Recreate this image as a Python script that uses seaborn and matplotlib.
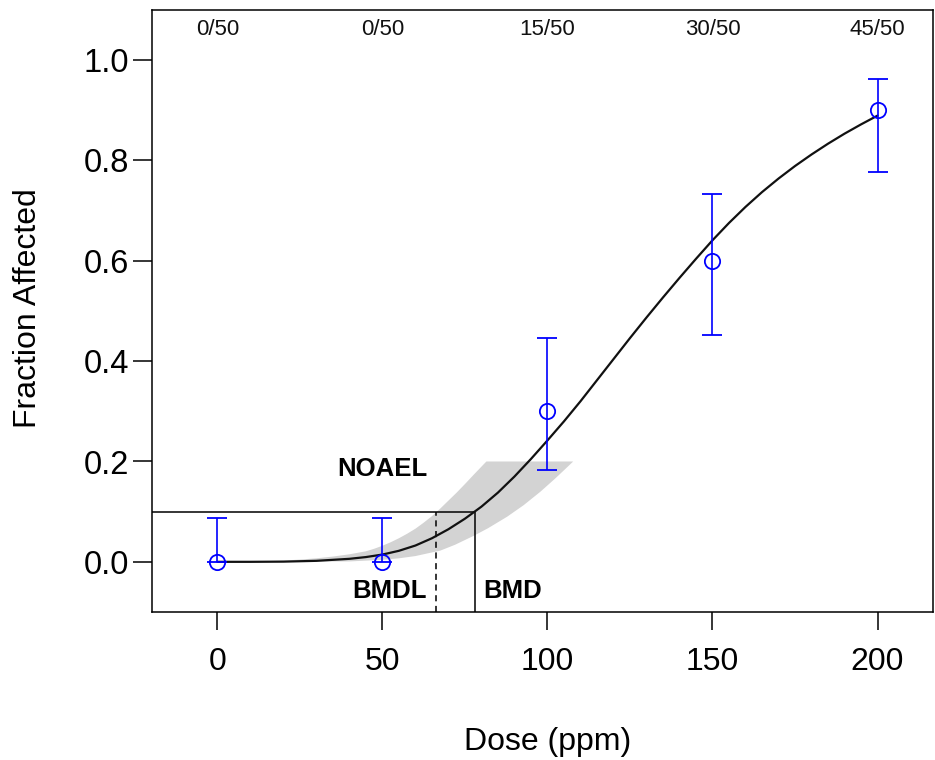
import numpy as np
import pandas as pd
import matplotlib
matplotlib.use("Agg")
import matplotlib.pyplot as plt
from matplotlib import font_manager
import seaborn as sns

# ---------------- data ----------------
doses = [0, 50, 100, 150, 200]
affected = [0, 0, 15, 30, 45]
n_animals = [50, 50, 50, 50, 50]
frac = [0.0, 0.0, 0.3, 0.6, 0.9]
ci_low = [0.0, 0.0, 0.183, 0.453, 0.777]
ci_high = [0.088, 0.087, 0.447, 0.734, 0.963]

curve_dose = [0, 10, 20, 30, 40, 45, 50, 55, 60, 65, 70, 75, 80, 85, 90, 95,
              100, 105, 110, 115, 120, 125, 130, 135, 140, 145, 150, 155, 160,
              165, 170, 175, 180, 185, 190, 195, 200]
curve_p = [0.0, 0.00002, 0.0004, 0.002, 0.006, 0.0095, 0.0145, 0.022, 0.0325,
           0.047, 0.065, 0.086, 0.110, 0.138, 0.170, 0.205, 0.242, 0.280, 0.320,
           0.362, 0.404, 0.446, 0.487, 0.527, 0.566, 0.604, 0.641, 0.6755, 0.7075,
           0.737, 0.764, 0.789, 0.812, 0.8335, 0.8535, 0.872, 0.8895]

band_upper_dose = [0, 10, 20, 25, 30, 35, 40, 45, 47.5, 50, 52.5, 55, 57.5, 60,
                   62.5, 65, 67.5, 70, 72.5, 75, 78, 81.5]
band_upper_p = [0.0, 0.0004, 0.0025, 0.0045, 0.007, 0.0105, 0.015, 0.021, 0.026,
                0.032, 0.039, 0.047, 0.056, 0.066, 0.078, 0.091, 0.106, 0.122,
                0.138, 0.155, 0.176, 0.2]
band_lower_dose = [0, 40, 50, 55, 60, 67.6, 72, 77.7, 82, 87.8, 92.8, 97.9,
                   102.5, 107.8]
band_lower_p = [0.0, 0.0008, 0.004, 0.007, 0.0115, 0.0225, 0.034, 0.052, 0.067,
                0.090, 0.113, 0.140, 0.167, 0.2]

bmr = 0.1
bmd = 77.9
bmdl = 66.2

xlim = (-19.8, 216.8)
ylim = (-0.1, 1.1)
xticks = [0, 50, 100, 150, 200]
yticks = [0.0, 0.2, 0.4, 0.6, 0.8, 1.0]

# ---------------- style ----------------
sns.set_theme(style="ticks")
names = {f.name for f in font_manager.fontManager.ttflist}
narrow = "Liberation Sans Narrow" if "Liberation Sans Narrow" in names else "Liberation Sans"
plt.rcParams["font.family"] = ["Liberation Sans", "DejaVu Sans"]

fig = plt.figure(figsize=(9.35, 7.6), dpi=100)
ax = fig.add_axes([152 / 935, 1 - 612 / 760, (933 - 152) / 935, (612 - 10) / 760])

# confidence band
band_x = band_upper_dose + band_lower_dose[::-1]
band_y = band_upper_p + band_lower_p[::-1]
ax.fill(band_x, band_y, color="#d3d3d3", lw=0, zorder=1)

# fitted curve
curve_df = pd.DataFrame({"dose": curve_dose, "p": curve_p})
sns.lineplot(data=curve_df, x="dose", y="p", ax=ax, color="#111111", lw=1.6,
             sort=True, estimator=None, zorder=3)

# BMD / BMDL guides
ax.hlines(bmr, xlim[0], bmd, color="black", lw=1.1, zorder=2)
ax.vlines(bmd, ylim[0], bmr, color="black", lw=1.1, zorder=2)
ax.vlines(bmdl, ylim[0], bmr, color="black", lw=1.1, linestyles=(0, (4, 3)), zorder=2)

# observed data with error bars
yerr = [np.array(frac) - np.array(ci_low), np.array(ci_high) - np.array(frac)]
ax.errorbar(doses, frac, yerr=yerr, fmt="o", mfc="none", mec="#0000ff",
            ms=11, mew=1.3, ecolor="#0000ff", elinewidth=1.2, capsize=7.5,
            capthick=1.2, zorder=4)

# counts on top
for d, a, nn in zip(doses, affected, n_animals):
    ax.text(d, 0.967, f"{a}/{nn}", transform=ax.get_xaxis_transform(),
            ha="center", va="center", fontsize=16, family=[narrow, "DejaVu Sans"],
            color="#111111")

# annotations
ax.text(50, 0.185, "NOAEL", ha="center", va="center", fontsize=18.5,
        fontweight="bold", color="black")
ax.text(63.5, -0.058, "BMDL", ha="right", va="center", fontsize=18.5,
        fontweight="bold", color="black")
ax.text(80.5, -0.058, "BMD", ha="left", va="center", fontsize=18.5,
        fontweight="bold", color="black")

ax.set_xlim(*xlim)
ax.set_ylim(*ylim)
ax.set_xticks(xticks)
ax.set_xticklabels([str(t) for t in xticks], family=[narrow, "DejaVu Sans"], fontsize=23)
ax.set_yticks(yticks)
ax.set_yticklabels([f"{t:.1f}" for t in yticks], fontsize=23.5)
ax.tick_params(axis="x", length=13, width=1.1, pad=12, colors="black")
ax.tick_params(axis="y", length=13.5, width=1.1, pad=3, colors="black")
for s in ax.spines.values():
    s.set_visible(True)
    s.set_linewidth(1.1)
    s.set_color("black")

ax.set_xlabel("Dose (ppm)", fontsize=23, color="black")
ax.xaxis.set_label_coords((548 - 152) / 781, (612 - 727) / 602)
ax.set_ylabel("Fraction Affected", fontsize=23, color="black", va="center")
ax.yaxis.set_label_coords((28 - 152) / 781, (612 - 308) / 602)

fig.savefig("out.png", dpi=100)
